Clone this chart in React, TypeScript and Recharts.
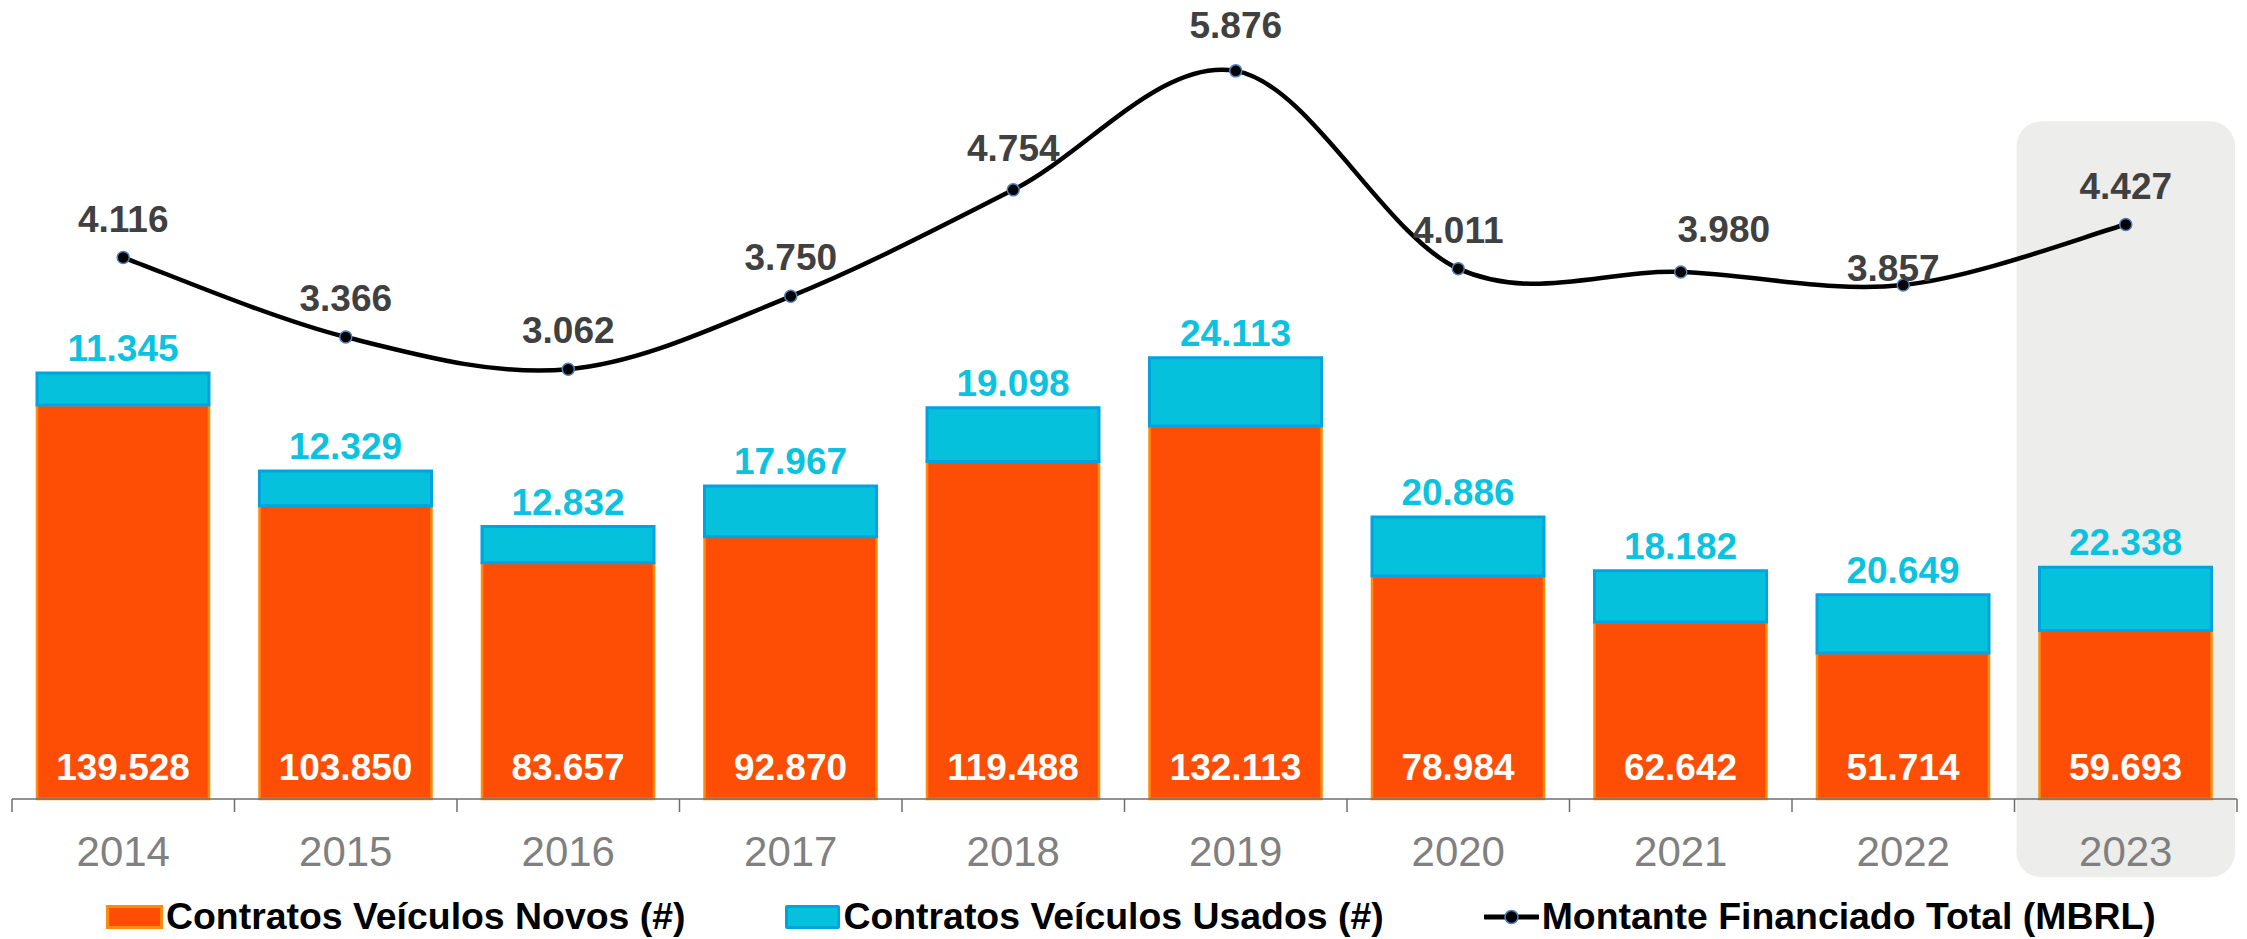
import { ComposedChart, Bar, Line, XAxis, YAxis, Legend, LabelList, ReferenceArea } from 'recharts';

const YEARS = ['2014', '2015', '2016', '2017', '2018', '2019', '2020', '2021', '2022', '2023'];
const NOVOS = [139528, 103850, 83657, 92870, 119488, 132113, 78984, 62642, 51714, 59693];
const USADOS = [11345, 12329, 12832, 17967, 19098, 24113, 20886, 18182, 20649, 22338];
const MONTANTE = [4.116, 3.366, 3.062, 3.75, 4.754, 5.876, 4.011, 3.98, 3.857, 4.427];

const NAME_NOVOS = 'Contratos Veículos Novos (#)';
const NAME_USADOS = 'Contratos Veículos Usados (#)';
const NAME_MONTANTE = 'Montante Financiado Total (MBRL)';
const HIGHLIGHT_YEAR = '2023';

const data = YEARS.map((year, i) => ({
  year,
  novos: NOVOS[i],
  usados: USADOS[i],
  montante: MONTANTE[i],
}));

const W = 2247;
const H = 939;
const MARGIN = { top: 10, right: 10, bottom: 30, left: 12 };
const HALF_BAND = (W - MARGIN.left - MARGIN.right) / YEARS.length / 2;

const FONT = '"Liberation Sans", Arial, Helvetica, sans-serif';
const ORANGE = '#FE4E05';
const ORANGE_EDGE = '#FF8A0C';
const BLUE = '#05C1DC';
const BLUE_EDGE = '#00A3DD';
const BLUE_TEXT = '#0BC3E0';
const AXIS = '#6F6F6F';
const LABEL_SIZE = 37;

// small manual nudges for the line labels (dx, dy)
const LINE_LABEL_NUDGE: [number, number][] = [
  [0, 0], [0, 0], [0, 0], [0, 0], [0, -3], [0, -7], [0, 0], [43, -4], [-10, 22], [0, 0],
];

const fmtInt = (v: number) => String(v).replace(/\B(?=(\d{3})+(?!\d))/g, '.');

// Excel-like smoothed line (Catmull-Rom through the points)
function smoothCurve(context: any) {
  let pts: number[][] = [];
  return {
    areaStart() {},
    areaEnd() {},
    lineStart() {
      pts = [];
    },
    point(x: number, y: number) {
      pts.push([+x, +y]);
    },
    lineEnd() {
      if (!pts.length) return;
      context.moveTo(pts[0][0], pts[0][1]);
      for (let i = 0; i < pts.length - 1; i++) {
        const p0 = pts[Math.max(i - 1, 0)];
        const p1 = pts[i];
        const p2 = pts[i + 1];
        const p3 = pts[Math.min(i + 2, pts.length - 1)];
        context.bezierCurveTo(
          p1[0] + (p2[0] - p0[0]) / 6,
          p1[1] + (p2[1] - p0[1]) / 6,
          p2[0] - (p3[0] - p1[0]) / 6,
          p2[1] - (p3[1] - p1[1]) / 6,
          p2[0],
          p2[1]
        );
      }
    },
  };
}

const AxisTick = (props: any) => {
  const { x, y, payload, index } = props;
  return (
    <g>
      <line x1={x - HALF_BAND} x2={x - HALF_BAND} y1={y} y2={y + 13} stroke={AXIS} strokeWidth={1.5} />
      {index === YEARS.length - 1 && (
        <line x1={x + HALF_BAND} x2={x + HALF_BAND} y1={y} y2={y + 13} stroke={AXIS} strokeWidth={1.5} />
      )}
      <text x={x} y={y + 67} textAnchor="middle" fontSize={42} fill="#808080" fontFamily={FONT}>
        {payload.value}
      </text>
    </g>
  );
};

const NovosLabel = (props: any) => {
  const { x, y, width, height, value } = props;
  return (
    <text x={x + width / 2} y={y + height - 19} textAnchor="middle" fontSize={LABEL_SIZE} fontWeight={700} fill="#fff" fontFamily={FONT}>
      {fmtInt(value)}
    </text>
  );
};

const UsadosLabel = (props: any) => {
  const { x, y, width, value } = props;
  return (
    <text x={x + width / 2} y={y - 12} textAnchor="middle" fontSize={LABEL_SIZE} fontWeight={700} fill={BLUE_TEXT} fontFamily={FONT}>
      {fmtInt(value)}
    </text>
  );
};

const MontanteLabel = (props: any) => {
  const { x, y, value, index } = props;
  const [dx, dy] = LINE_LABEL_NUDGE[index] || [0, 0];
  return (
    <text x={x + dx} y={y - 26 + dy} textAnchor="middle" fontSize={LABEL_SIZE} fontWeight={700} fill="#404040" fontFamily={FONT}>
      {Number(value).toFixed(3)}
    </text>
  );
};

const LegendItem = ({ marker, label }: { marker: any; label: string }) => (
  <div style={{ display: 'flex', alignItems: 'center', gap: 3 }}>
    {marker}
    <span style={{ lineHeight: 1, whiteSpace: 'nowrap' }}>{label}</span>
  </div>
);

const renderLegend = () => (
  <div
    style={{
      display: 'flex',
      alignItems: 'center',
      height: 50,
      paddingLeft: 106,
      gap: 100,
      fontFamily: FONT,
      fontWeight: 700,
      fontSize: 37.4,
      color: '#000',
    }}
  >
    <LegendItem
      label={NAME_NOVOS}
      marker={<span style={{ width: 57, height: 24, boxSizing: 'border-box', background: ORANGE, border: `3px solid ${ORANGE_EDGE}` }} />}
    />
    <LegendItem
      label={NAME_USADOS}
      marker={<span style={{ width: 55, height: 24, boxSizing: 'border-box', background: BLUE, border: `3px solid ${BLUE_EDGE}`, borderRadius: 2 }} />}
    />
    <LegendItem
      label={NAME_MONTANTE}
      marker={
        <svg width={55} height={18}>
          <line x1={1} x2={54} y1={9} y2={9} stroke="#000" strokeWidth={5} strokeLinecap="round" />
          <circle cx={27.5} cy={9} r={6.5} fill="#000" stroke="#4F81BD" strokeWidth={1.5} />
        </svg>
      }
    />
  </div>
);

export default function App() {
  return (
    <div style={{ position: 'absolute', left: 0, top: 0, width: W, height: H, background: '#fff', fontFamily: FONT }}>
      <ComposedChart width={W} height={H} data={data} margin={MARGIN} barCategoryGap={0}>
        <XAxis
          dataKey="year"
          xAxisId={0}
          interval={0}
          height={60}
          tickLine={false}
          tickSize={0}
          tickMargin={0}
          axisLine={{ stroke: AXIS, strokeWidth: 1.5 }}
          tick={<AxisTick />}
        />
        <YAxis yAxisId="left" hide domain={[0, 279400]} />
        <YAxis yAxisId="right" orientation="right" hide domain={[-0.99, 6.45]} />
        <ReferenceArea
          yAxisId="left"
          x1={HIGHLIGHT_YEAR}
          x2={HIGHLIGHT_YEAR}
          y1={-27700}
          y2={240000}
          ifOverflow="visible"
          zIndex={-1}
          shape={(p: any) => <rect x={p.x + 2} y={p.y} width={p.width - 4} height={p.height} rx={25} ry={25} fill="#EDEDEB" />}
        />
        <Bar
          yAxisId="left"
          dataKey="novos"
          name={NAME_NOVOS}
          stackId="c"
          barSize={172}
          fill={ORANGE}
          stroke={ORANGE_EDGE}
          strokeWidth={2.5}
          isAnimationActive={false}
        >
          <LabelList dataKey="novos" content={<NovosLabel />} />
        </Bar>
        <Bar
          yAxisId="left"
          dataKey="usados"
          name={NAME_USADOS}
          stackId="c"
          barSize={172}
          fill={BLUE}
          stroke={BLUE_EDGE}
          strokeWidth={3}
          isAnimationActive={false}
        >
          <LabelList dataKey="usados" content={<UsadosLabel />} />
        </Bar>
        <Line
          yAxisId="right"
          dataKey="montante"
          name={NAME_MONTANTE}
          type={smoothCurve as any}
          stroke="#000"
          strokeWidth={4.5}
          dot={{ r: 6, fill: '#000', stroke: '#4F81BD', strokeWidth: 1.5 }}
          activeDot={false}
          isAnimationActive={false}
        >
          <LabelList dataKey="montante" content={<MontanteLabel />} />
        </Line>
        <Legend
          verticalAlign="bottom"
          content={renderLegend}
          wrapperStyle={{ left: 0, top: 892, width: W, height: 50 }}
        />
      </ComposedChart>
    </div>
  );
}
